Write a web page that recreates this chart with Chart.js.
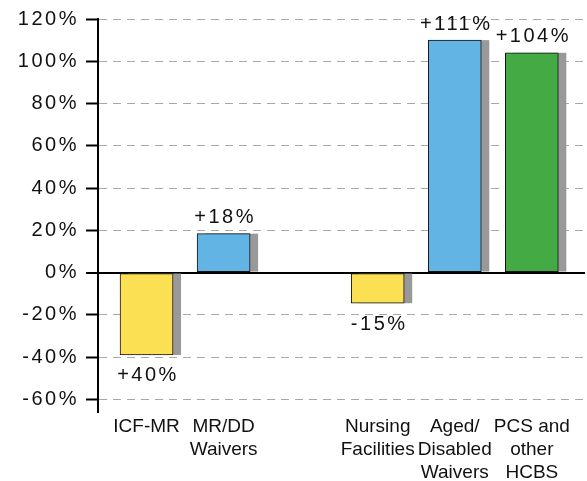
<!DOCTYPE html>
<html>
<head>
<meta charset="utf-8">
<script src="https://cdn.jsdelivr.net/npm/chart.js@4/dist/chart.umd.min.js"></script>
<style>
  html, body { margin: 0; padding: 0; background: #fff; }
  #wrap { width: 587px; height: 481px; }
</style>
</head>
<body>
<div id="wrap"><canvas id="chart"></canvas></div>
<script>
// data (blank slot = gap between the two groups)
const categories = [['ICF-MR'], ['MR/DD', 'Waivers'], [''], ['Nursing', 'Facilities'], ['Aged/', 'Disabled', 'Waivers'], ['PCS and', 'other', 'HCBS']];
const values = [-39, 18.4, null, -14.5, 110, 104];
const valueLabels = ['+40%', '+18%', '', '-15%', '+111%', '+104%'];
const barColors = ['#fce054', '#62b4e4', null, '#fce054', '#62b4e4', '#44aa44'];
const yTicks = [-60, -40, -20, 0, 20, 40, 60, 80, 100, 120];

const FONT = "'Liberation Sans', Arial, Helvetica, sans-serif";

// grey block behind each bar, shifted right
const barShadow = {
  id: 'barShadow',
  beforeDatasetDraw(chart, args) {
    const ctx = chart.ctx;
    ctx.save();
    ctx.fillStyle = '#999999';
    args.meta.data.forEach(bar => {
      if (bar.y == null || isNaN(bar.y)) return;
      const top = Math.min(bar.y, bar.base);
      const h = Math.abs(bar.base - bar.y);
      ctx.fillRect(bar.x - bar.width / 2 + 8, top, bar.width, h);
    });
    ctx.restore();
  }
};

// value labels above / below the bars
const barLabels = {
  id: 'barLabels',
  afterDatasetsDraw(chart) {
    const ctx = chart.ctx;
    const meta = chart.getDatasetMeta(0);
    ctx.save();
    ctx.font = '20px ' + FONT;
    ctx.fillStyle = '#111';
    ctx.textAlign = 'center';
    ctx.textBaseline = 'middle';
    ctx.letterSpacing = '2.5px';
    meta.data.forEach((bar, i) => {
      if (!valueLabels[i] || values[i] == null) return;
      const y = values[i] >= 0 ? bar.y - 16 : bar.y + 21;
      ctx.fillText(valueLabels[i], bar.x + 1.5, y);
    });
    ctx.restore();
  }
};

new Chart(document.getElementById('chart'), {
  type: 'bar',
  data: {
    datasets: [{
      data: values.map((v, i) => ({ x: i, y: v })),
      backgroundColor: barColors,
      borderColor: '#111',
      borderWidth: 1,
      borderSkipped: false,
      barThickness: 53
    }]
  },
  options: {
    responsive: true,
    maintainAspectRatio: false,
    animation: false,
    layout: { padding: { top: 16, right: 2, left: 0, bottom: 0 } },
    plugins: { legend: { display: false }, tooltip: { enabled: false } },
    scales: {
      x: {
        type: 'linear',
        offset: false,
        min: -0.63,
        max: 5.69,
        grid: { display: false, drawTicks: false, offset: false },
        border: { display: false },
        afterBuildTicks: scale => {
          scale.ticks = categories.map((c, i) => ({ value: i }));
        },
        afterFit: scale => { scale.height = 69; },
        ticks: {
          autoSkip: false,
          maxRotation: 0,
          padding: 3,
          color: '#111',
          font: { family: FONT, size: 19, lineHeight: 1.21 },
          callback: v => categories[v]
        }
      },
      y: {
        min: -66,
        max: 120,
        afterBuildTicks: scale => {
          scale.ticks = yTicks.map(v => ({ value: v }));
        },
        afterFit: scale => { scale.width = 98; },
        afterUpdate: scale => {
          if (scale._spaced) return;
          const draw = scale.drawLabels;
          scale.drawLabels = function (area) {
            this.ctx.save();
            this.ctx.letterSpacing = '2.5px';
            draw.call(this, area);
            this.ctx.restore();
          };
          scale._spaced = true;
        },
        grid: {
          color: c => (c.tick && c.tick.value === 0 ? '#000' : '#a8a8a8'),
          lineWidth: c => (c.tick && c.tick.value === 0 ? 2 : 1),
          tickColor: '#000',
          tickWidth: 2,
          tickLength: 12
        },
        border: {
          color: '#000',
          width: 2,
          dash: c => (c.tick && c.tick.value !== 0 ? [8, 6] : [])
        },
        ticks: {
          padding: 7,
          color: '#111',
          font: { family: FONT, size: 20 },
          callback: v => v + '%'
        }
      }
    }
  },
  plugins: [barShadow, barLabels]
});
</script>
</body>
</html>
